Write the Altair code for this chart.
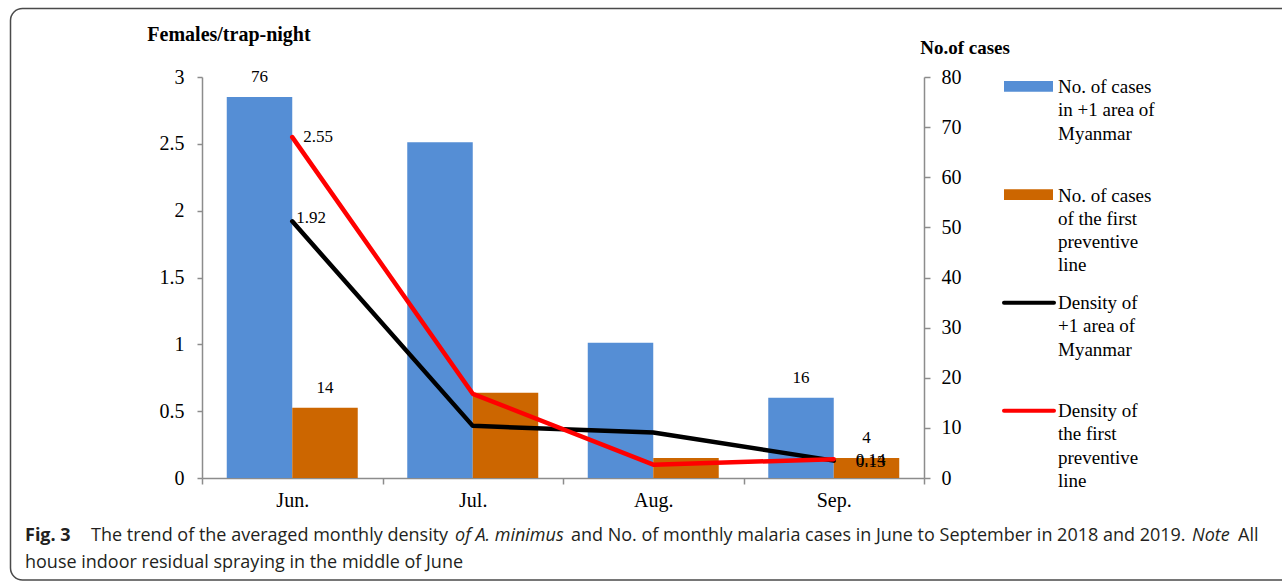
import altair as alt
import pandas as pd

# ---------------- data ----------------
MONTHS = ["Jun.", "Jul.", "Aug.", "Sep."]
CASES_PLUS1 = [76, 67, 27, 16]
CASES_FIRST = [14, 17, 4, 4]
DENSITY_PLUS1 = [1.92, 0.39, 0.34, 0.13]
DENSITY_FIRST = [2.55, 0.63, 0.10, 0.14]

BAR_SERIES = ["No. of cases in +1 area of Myanmar", "No. of cases of the first preventive line"]
LINE_SERIES = ["Density of +1 area of Myanmar", "Density of the first preventive line"]
BAR_COLORS = ["#558ED5", "#CC6600"]
LINE_COLORS = ["#000000", "#FF0000"]

LEFT_TICKS = [0, 0.5, 1, 1.5, 2, 2.5, 3]
RIGHT_TICKS = [0, 10, 20, 30, 40, 50, 60, 70, 80]
LEFT_TITLE = "Females/trap-night"
RIGHT_TITLE = "No.of cases"

LEGEND_TEXT = [
    ["No. of cases", "in +1 area of", "Myanmar"],
    ["No. of cases", "of the first", "preventive", "line"],
    ["Density of", "+1 area of", "Myanmar"],
    ["Density of", "the first", "preventive", "line"],
]

CAPTION_BOLD = "Fig. 3"
CAPTION_1A = "The trend of the averaged monthly density"
CAPTION_1B = "of A. minimus"
CAPTION_1C = "and No. of monthly malaria cases in June to September in 2018 and 2019."
CAPTION_1D = "Note"
CAPTION_1E = "All"
CAPTION_2 = "house indoor residual spraying in the middle of June"

bars = pd.DataFrame({
    "month": MONTHS * 2,
    "series": [BAR_SERIES[0]] * 4 + [BAR_SERIES[1]] * 4,
    "cases": CASES_PLUS1 + CASES_FIRST,
})
lines = pd.DataFrame({
    "month": MONTHS * 2,
    "series": [LINE_SERIES[0]] * 4 + [LINE_SERIES[1]] * 4,
    "density": DENSITY_PLUS1 + DENSITY_FIRST,
})

SERIF = "Liberation Serif"
AXIS_GRAY = "#8C8C8C"

x_enc = alt.X(
    "month:N", sort=MONTHS,
    scale=alt.Scale(paddingInner=0, paddingOuter=0),
    axis=alt.Axis(title=None, labelAngle=0, tickBand="extent", domainColor=AXIS_GRAY,
                  domainWidth=1.5, tickColor=AXIS_GRAY, tickWidth=1.5, tickSize=6,
                  labelFont=SERIF, labelFontSize=20, labelColor="black", labelPadding=6,
                  grid=False),
)
xoff = alt.XOffset("series:N", sort=BAR_SERIES,
                   scale=alt.Scale(paddingOuter=0.378, paddingInner=0))
y_cases = alt.Y(
    "cases:Q", scale=alt.Scale(domain=[0, 80], nice=False),
    axis=alt.Axis(orient="right", values=RIGHT_TICKS, title=None, grid=False,
                  domainColor=AXIS_GRAY, domainWidth=1.5, tickColor=AXIS_GRAY,
                  tickWidth=1.5, tickSize=6, labelFont=SERIF, labelFontSize=20,
                  labelColor="black", labelPadding=11),
)
y_dens = alt.Y(
    "density:Q", scale=alt.Scale(domain=[0, 3], nice=False),
    axis=alt.Axis(orient="left", values=LEFT_TICKS, format="~g", title=None, grid=False,
                  domainColor=AXIS_GRAY, domainWidth=1.5, tickColor=AXIS_GRAY,
                  tickWidth=1.5, tickSize=5, labelFont=SERIF, labelFontSize=20,
                  labelColor="black", labelPadding=13),
)
bar_color = alt.Color("series:N", scale=alt.Scale(domain=BAR_SERIES, range=BAR_COLORS), legend=None)

base_b = alt.Chart(bars)
bar_layer = base_b.mark_bar().encode(x=x_enc, xOffset=xoff, y=y_cases, color=bar_color)
bar_labels = base_b.mark_text(font=SERIF, fontSize=17, color="black", baseline="middle", dy=-20).encode(
    x=x_enc, xOffset=xoff, y=y_cases, text="cases:Q"
).transform_filter(alt.FieldOneOfPredicate(field="month", oneOf=[MONTHS[0], MONTHS[3]]))
right_group = alt.layer(bar_layer, bar_labels)

base_l = alt.Chart(lines)
line_black = base_l.mark_line(strokeWidth=4.5, strokeJoin="round", strokeCap="round",
                              color=LINE_COLORS[0]).encode(
    x=x_enc, y=y_dens
).transform_filter(alt.datum.series == LINE_SERIES[0])
line_red = base_l.mark_line(strokeWidth=4.5, strokeJoin="round", strokeCap="round",
                            color=LINE_COLORS[1]).encode(
    x=x_enc, y=y_dens
).transform_filter(alt.datum.series == LINE_SERIES[1])

def line_label(series, month, dx, dy):
    return base_l.mark_text(font=SERIF, fontSize=17, color="black", align="left",
                            baseline="middle", dx=dx, dy=dy).encode(
        x=x_enc, y=y_dens, text=alt.Text("density:Q", format=".2f")
    ).transform_filter(
        (alt.datum.series == series) & (alt.datum.month == month)
    )

left_group = alt.layer(
    line_black, line_red,
    line_label(LINE_SERIES[1], MONTHS[0], 11, 0),
    line_label(LINE_SERIES[0], MONTHS[0], 4, -3),
    line_label(LINE_SERIES[0], MONTHS[3], 22, 1),
    line_label(LINE_SERIES[1], MONTHS[3], 22, 1),
)

plot = alt.layer(right_group, left_group).resolve_scale(y="independent")

# ------------- decorations (pixel positions relative to plot origin) -------------
dummy = alt.Chart(pd.DataFrame({"k": [0]}))

frame = dummy.mark_rect(filled=False, stroke="#4A4A4A", strokeWidth=1.5, cornerRadius=12).encode(
    x=alt.value(-191.5), x2=alt.value(1100), y=alt.value(-68.5), y2=alt.value(503)
)

def txt(s, x, y, size, weight="normal", style="normal", align="left", font=SERIF,
        baseline="alphabetic", color="black"):
    return dummy.mark_text(text=s, font=font, fontSize=size, fontWeight=weight,
                           fontStyle=style, align=align, baseline=baseline,
                           color=color).encode(x=alt.value(x), y=alt.value(y))

titles = [
    txt(LEFT_TITLE, 27, -42, 20, weight="bold", align="center", baseline="middle"),
    txt(RIGHT_TITLE, 763, -29, 19, weight="bold", align="center", baseline="middle"),
]

legend_layers = [
    dummy.mark_rect(color=BAR_COLORS[0]).encode(x=alt.value(802), x2=alt.value(851),
                                                y=alt.value(4), y2=alt.value(14.7)),
    dummy.mark_rect(color=BAR_COLORS[1]).encode(x=alt.value(802), x2=alt.value(851),
                                                y=alt.value(112.3), y2=alt.value(123)),
    dummy.mark_rule(color=LINE_COLORS[0], strokeWidth=4, strokeCap="round").encode(
        x=alt.value(802), x2=alt.value(852), y=alt.value(225.7)),
    dummy.mark_rule(color=LINE_COLORS[1], strokeWidth=4, strokeCap="round").encode(
        x=alt.value(802), x2=alt.value(852), y=alt.value(333.7)),
]
first_line_centers = [9.7, 118, 225.7, 333.7]
for lines_txt, cy in zip(LEGEND_TEXT, first_line_centers):
    legend_layers.append(
        dummy.mark_text(text=lines_txt, font=SERIF, fontSize=19, lineHeight=23.3,
                        align="left", baseline="alphabetic", color="black").encode(
            x=alt.value(856), y=alt.value(cy + 6.5))
    )

CAP_FONT = "Open Sans"
CAP_SIZE = 18
CAP_COLOR = "#231F20"
OX = 202  # plot origin in page pixels
caption = [
    txt(CAPTION_BOLD, 25 - OX, 464, CAP_SIZE, weight="bold", font=CAP_FONT, color=CAP_COLOR),
    txt(CAPTION_1A, 91 - OX, 464, CAP_SIZE, font=CAP_FONT, color=CAP_COLOR),
    txt(CAPTION_1B, 455 - OX, 464, CAP_SIZE, style="italic", font=CAP_FONT, color=CAP_COLOR),
    txt(CAPTION_1C, 571 - OX, 464, CAP_SIZE, font=CAP_FONT, color=CAP_COLOR),
    txt(CAPTION_1D, 1192 - OX, 464, CAP_SIZE, style="italic", font=CAP_FONT, color=CAP_COLOR),
    txt(CAPTION_1E, 1238 - OX, 464, CAP_SIZE, font=CAP_FONT, color=CAP_COLOR),
    txt(CAPTION_2, 25 - OX, 490.7, CAP_SIZE, font=CAP_FONT, color=CAP_COLOR),
]

chart = alt.layer(frame, plot, *titles, *legend_layers, *caption).properties(
    width=722, height=401,
    autosize=alt.AutoSizeParams(type="none"),
    padding={"left": 202, "top": 77, "right": 358, "bottom": 103},
    background="white",
).configure_view(stroke=None)

chart.save("out.html", embed_options={"renderer": "svg", "actions": False})
